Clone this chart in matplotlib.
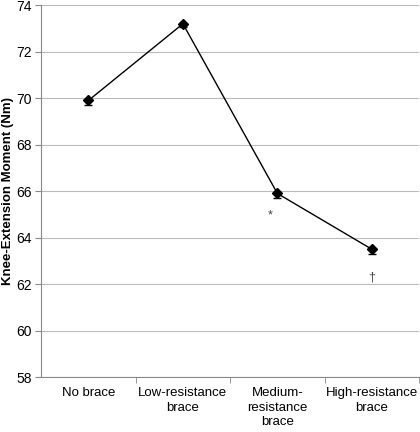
import matplotlib
matplotlib.use("Agg")
import matplotlib.pyplot as plt
import numpy as np

plt.rcParams['font.family'] = ['Liberation Sans', 'DejaVu Sans']

categories = ["No brace", "Low-resistance\nbrace", "Medium-\nresistance\nbrace", "High-resistance\nbrace"]
moments = [69.9, 73.2, 65.9, 63.5]
err_low = [0.2, 0.15, 0.2, 0.2]
marks = ["", "", "*", "\u2020"]
mark_y = [0, 0, 64.95, 62.3]

fig = plt.figure(figsize=(4.2, 4.32), dpi=100)
ax = fig.add_axes([0.098, 0.127, 0.9, 0.861])

x = np.arange(len(categories))
ax.errorbar(x, moments, yerr=[err_low, [0] * len(x)], color="black", lw=1,
            marker="D", ms=5.5, capsize=3, elinewidth=1, zorder=3)

for xi, m, my in zip(x, marks, mark_y):
    if m:
        ax.text(xi - 0.08 if m == "*" else xi, my, m, ha="center", va="center",
                fontsize=9, color="#444444")

ax.set_xlim(-0.5, 3.5)
ax.set_ylim(58, 74)
ax.set_yticks(np.arange(58, 75, 2))
ax.set_xticks(x)
ax.set_xticklabels(categories, fontsize=9.5, linespacing=1.3)
ax.set_xticks([0.5, 1.5, 2.5, 3.5], minor=True)
ax.tick_params(axis="x", which="major", length=0, pad=7)
ax.tick_params(axis="x", which="minor", length=4, color="#888888")
ax.tick_params(axis="y", length=4, color="#888888", labelsize=10, pad=3)
ax.yaxis.grid(True, color="#bbbbbb", lw=0.8)
ax.set_axisbelow(True)
for s in ["top", "right"]:
    ax.spines[s].set_visible(False)
for s in ["left", "bottom"]:
    ax.spines[s].set_color("#888888")
ax.set_ylabel("Knee-Extension Moment (Nm)", fontsize=9.5, fontweight="bold")
ax.yaxis.set_label_coords(-0.072, 0.5)

fig.savefig("out.png", dpi=100)
